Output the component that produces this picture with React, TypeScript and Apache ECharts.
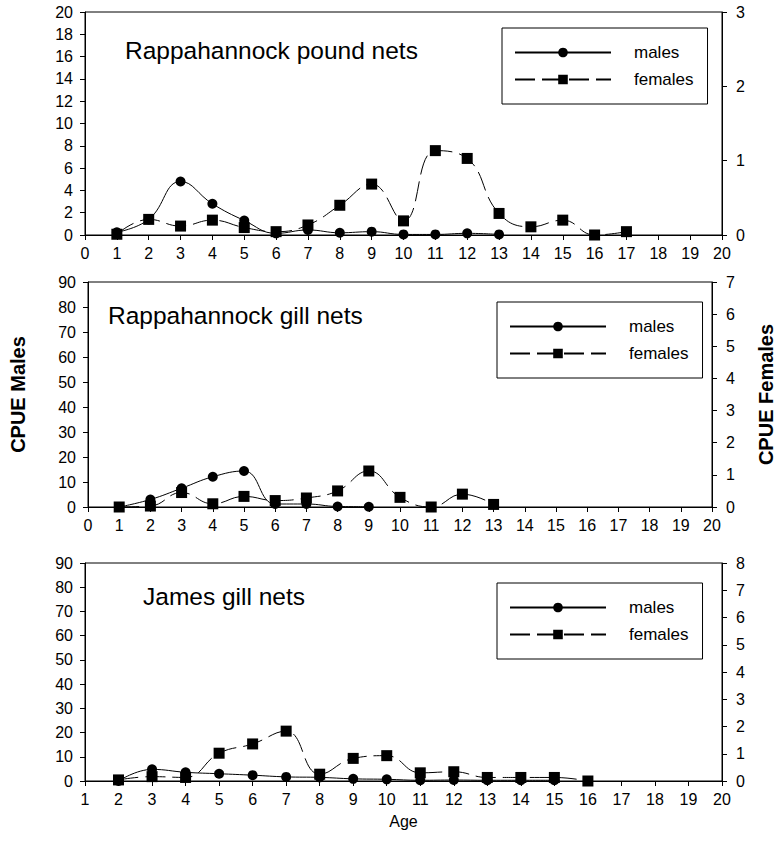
import React, { useEffect, useRef } from "react";
import * as echarts from "echarts";

// Panel 1: Rappahannock pound nets
const p1MaleAges = [1, 2, 3, 4, 5, 6, 7, 8, 9, 10, 11, 12, 13];
const p1Males = [0.25, 1.4, 4.8, 2.8, 1.3, 0.15, 0.45, 0.2, 0.3, 0.05, 0.05, 0.15, 0.05];
const p1FemaleAges = [1, 2, 3, 4, 5, 6, 7, 8, 9, 10, 11, 12, 13, 14, 15, 16, 17];
const p1Females = [0.01, 0.21, 0.12, 0.2, 0.1, 0.045, 0.135, 0.4, 0.685, 0.19, 1.135, 1.03, 0.29, 0.11, 0.2, 0, 0.045];

// Panel 2: Rappahannock gill nets
const p2MaleAges = [1, 2, 3, 4, 5, 6, 7, 8, 9];
const p2Males = [0, 3, 7.5, 12.1, 14.4, 1.2, 1.2, 0.2, 0.1];
const p2FemaleAges = [1, 2, 3, 4, 5, 6, 7, 8, 9, 10, 11, 12, 13];
const p2Females = [0, 0.03, 0.45, 0.1, 0.33, 0.2, 0.28, 0.5, 1.12, 0.3, 0, 0.4, 0.08];

// Panel 3: James gill nets
const p3MaleAges = [2, 3, 4, 5, 6, 7, 8, 9, 10, 11, 12, 13, 14, 15];
const p3Males = [0, 4.8, 3.6, 3.0, 2.4, 1.7, 1.5, 0.9, 0.7, 0.3, 0.4, 0.3, 0.3, 0.3];
const p3FemaleAges = [2, 3, 4, 5, 6, 7, 8, 9, 10, 11, 12, 13, 14, 15, 16];
const p3Females = [0.04, 0.16, 0.13, 1.02, 1.36, 1.83, 0.25, 0.83, 0.93, 0.3, 0.34, 0.13, 0.13, 0.13, 0];

const panelTitles = ["Rappahannock pound nets", "Rappahannock gill nets", "James gill nets"];
const seriesNames = ["males", "females"];

const FONT = "'Liberation Sans', Arial, sans-serif";

const pairs = (xs: number[], ys: number[]) => xs.map((x, i) => [x, ys[i]]);

export default function App() {
  const ref = useRef<HTMLDivElement>(null);
  useEffect(() => {
    document.body.style.margin = "0";
    if (!ref.current) return;
    const chart = echarts.init(ref.current, undefined, { renderer: "svg" });

    const grids = [
      { left: 85, right: 62, top: 12, height: 223 },
      { left: 85, right: 62, top: 282, height: 225 },
      { left: 85, right: 62, top: 563, height: 218 },
    ];

    const axisCommon = {
      axisLine: { show: true, lineStyle: { color: "#000", width: 1 } },
      axisTick: { show: true, inside: false, length: 5, lineStyle: { color: "#000" } },
      splitLine: { show: false },
      axisLabel: { color: "#000", fontFamily: FONT, fontSize: 16 },
    };

    const xRanges = [
      [0, 20],
      [0, 20],
      [1, 20],
    ];
    const xAxes = xRanges.map((r, i) => ({
      type: "value",
      gridIndex: i,
      min: r[0],
      max: r[1],
      interval: 1,
      ...axisCommon,
      axisLabel: { ...axisCommon.axisLabel, margin: 10 },
      ...(i === 2
        ? {
            name: "Age",
            nameLocation: "middle",
            nameGap: 32,
            nameTextStyle: { color: "#000", fontFamily: FONT, fontSize: 16 },
          }
        : {}),
    }));

    const leftRanges = [
      [0, 20, 2],
      [0, 90, 10],
      [0, 90, 10],
    ];
    const rightRanges = [
      [0, 3, 1],
      [0, 7, 1],
      [0, 8, 1],
    ];
    const yAxes: any[] = [];
    for (let i = 0; i < 3; i++) {
      yAxes.push({
        type: "value",
        gridIndex: i,
        position: "left",
        min: leftRanges[i][0],
        max: leftRanges[i][1],
        interval: leftRanges[i][2],
        ...axisCommon,
        axisLabel: { ...axisCommon.axisLabel, margin: 12 },
        ...(i === 1
          ? {
              name: "CPUE Males",
              nameLocation: "middle",
              nameGap: 60,
              nameTextStyle: { color: "#000", fontFamily: FONT, fontSize: 20, fontWeight: "bold" },
            }
          : {}),
      });
      yAxes.push({
        type: "value",
        gridIndex: i,
        position: "right",
        min: rightRanges[i][0],
        max: rightRanges[i][1],
        interval: rightRanges[i][2],
        ...axisCommon,
        axisLabel: { ...axisCommon.axisLabel, margin: 14 },
        ...(i === 1
          ? {
              name: "CPUE Females",
              nameLocation: "middle",
              nameGap: 44,
              nameRotate: 90,
              nameTextStyle: { color: "#000", fontFamily: FONT, fontSize: 20, fontWeight: "bold" },
            }
          : {}),
      });
    }

    const data = [
      [pairs(p1MaleAges, p1Males), pairs(p1FemaleAges, p1Females)],
      [pairs(p2MaleAges, p2Males), pairs(p2FemaleAges, p2Females)],
      [pairs(p3MaleAges, p3Males), pairs(p3FemaleAges, p3Females)],
    ];

    const series: any[] = [];
    for (let i = 0; i < 3; i++) {
      series.push({
        name: seriesNames[0],
        type: "line",
        xAxisIndex: i,
        yAxisIndex: i * 2,
        data: data[i][0],
        smooth: 0.45,
        symbol: "circle",
        symbolSize: 10,
        showAllSymbol: true,
        itemStyle: { color: "#000" },
        lineStyle: { color: "#000", width: 1 },
      });
      series.push({
        name: seriesNames[1],
        type: "line",
        xAxisIndex: i,
        yAxisIndex: i * 2 + 1,
        data: data[i][1],
        smooth: 0.45,
        symbol: "rect",
        symbolSize: 11,
        showAllSymbol: true,
        itemStyle: { color: "#000" },
        lineStyle: { color: "#000", width: 1, type: [20, 7] },
      });
    }

    const legendPos = [
      { left: 502, top: 28 },
      { left: 497, top: 302 },
      { left: 497, top: 583 },
    ];
    const legends = legendPos.map((p) => ({
      data: seriesNames,
      orient: "vertical",
      left: p.left,
      top: p.top,
      itemWidth: 96,
      itemHeight: 12,
      itemGap: 10,
      padding: [16, 14, 16, 12],
      borderColor: "#000",
      borderWidth: 1,
      backgroundColor: "#fff",
      selectedMode: false,
      textStyle: { color: "#000", fontFamily: FONT, fontSize: 17, padding: [0, 0, 0, 18] },
    }));

    const titleTexts = [
      { x: 125, y: 52 },
      { x: 108, y: 317 },
      { x: 143, y: 598 },
    ];

    chart.setOption({
      animation: false,
      grid: grids.map((g) => ({ ...g, show: true, borderColor: "#000", borderWidth: 1, backgroundColor: "transparent" })),
      xAxis: xAxes,
      yAxis: yAxes,
      legend: legends,
      series,
      graphic: titleTexts.map((t, i) => ({
        type: "text",
        left: t.x,
        top: t.y - 14,
        style: { text: panelTitles[i], fill: "#000", font: `24.5px ${FONT}` },
      })),
    });

    return () => chart.dispose();
  }, []);

  return <div ref={ref} style={{ width: 784, height: 859 }} />;
}
